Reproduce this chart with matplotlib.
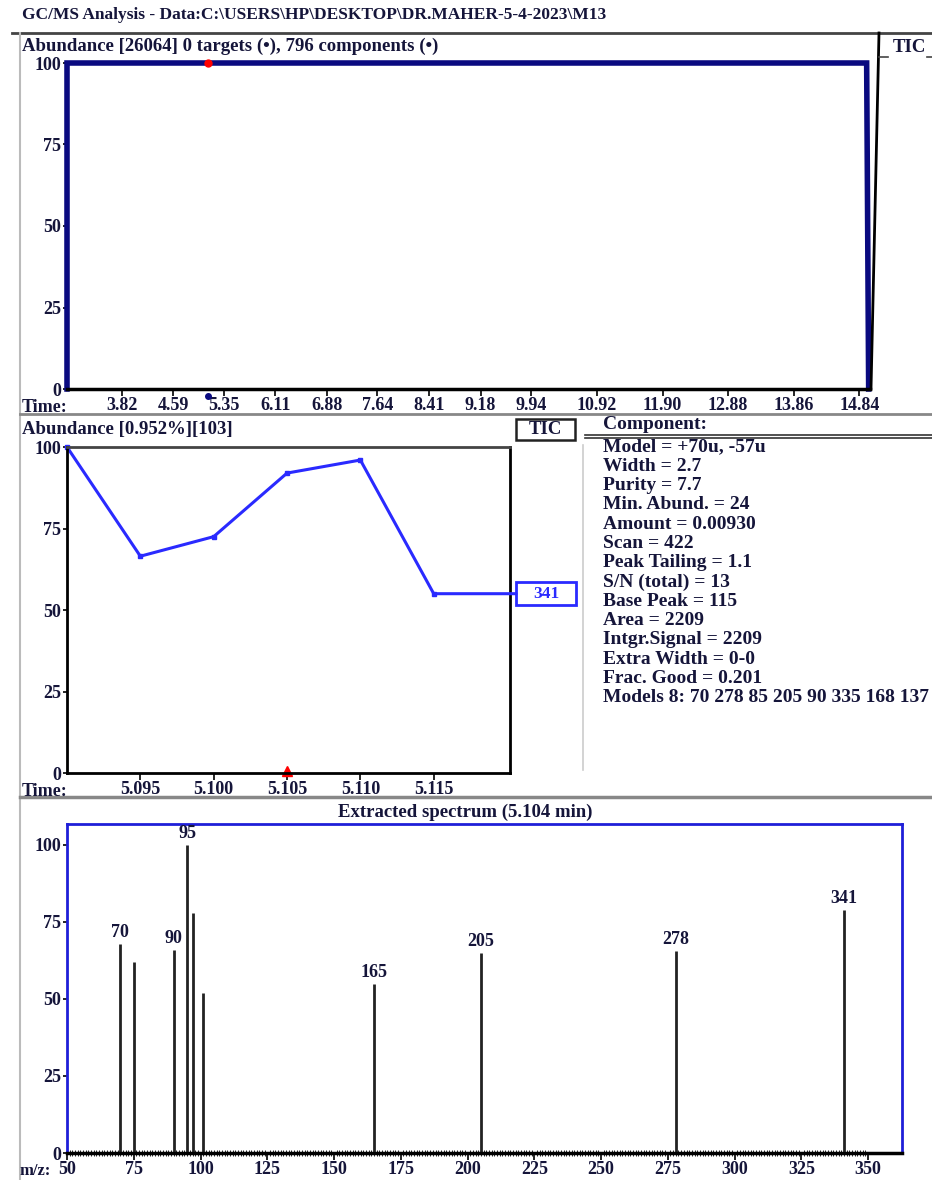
import numpy as np
import matplotlib.pyplot as plt
from matplotlib.lines import Line2D
from matplotlib.patches import Rectangle

plt.rcParams['font.family'] = ['Liberation Serif', 'DejaVu Serif']
plt.rcParams['font.weight'] = 'bold'

# Figure size in pixels
W, H = 932, 1180
INK = '#15153a'
NAVY = '#0a0a80'
BLUE = '#2a2aff'

# TIC trace (saturated over the whole run)
tic_time = [3.0, 3.0, 14.95, 14.98]
tic_abund = [0, 100, 100, 0]
tic_ticks = [3.82, 4.59, 5.35, 6.11, 6.88, 7.64, 8.41, 9.18, 9.94,
             10.92, 11.90, 12.88, 13.86, 14.84]
tic_labels = ['3.82', '4.59', '5.35', '6.11', '6.88', '7.64', '8.41', '9.18',
              '9.94', '10.92', '11.90', '12.88', '13.86', '14.84']
component_time = 5.104

# Ion chromatogram of m/z 341 around the component
ion_time = [5.090, 5.095, 5.100, 5.105, 5.110, 5.115]
ion_abund = [100, 66.5, 72.5, 92, 96, 55]
ion_ticks = [5.095, 5.100, 5.105, 5.110, 5.115]
ion_label = '341'

# Component details
info_lines = [
    'Model = +70u, -57u',
    'Width = 2.7',
    'Purity = 7.7',
    'Min. Abund. = 24',
    'Amount = 0.00930',
    'Scan = 422',
    'Peak Tailing = 1.1',
    'S/N (total) = 13',
    'Base Peak = 115',
    'Area = 2209',
    'Intgr.Signal = 2209',
    'Extra Width = 0-0',
    'Frac. Good = 0.201',
    'Models 8: 70 278 85 205 90 335 168 137',
]

# Extracted spectrum
mz = [70, 75, 90, 95, 97, 101, 165, 205, 278, 341]
intensity = [68, 62, 66, 100, 78, 52, 55, 65, 65.5, 79]
labelled_mz = [70, 90, 95, 165, 205, 278, 341]


def box(x0, y0, x1, y1):
    return [x0 / W, 1 - y1 / H, (x1 - x0) / W, (y1 - y0) / H]


def line(x0, y0, x1, y1, **kw):
    fig.add_artist(Line2D([x0 / W, x1 / W], [1 - y0 / H, 1 - y1 / H],
                          transform=fig.transFigure, **kw))


def text(x, y, s, **kw):
    kw.setdefault('fontsize', 13.5)
    kw.setdefault('color', INK)
    kw.setdefault('va', 'center')
    fig.text(x / W, 1 - y / H, s, **kw)


def style_ticks(ax):
    ax.tick_params(axis='y', length=3, width=1.2, pad=1, labelsize=13,
                   labelcolor=INK)
    ax.tick_params(axis='x', length=5, width=1.2, pad=1, labelsize=13,
                   labelcolor=INK)


fig = plt.figure(figsize=(W / 100, H / 100), dpi=100)

# ---- panel frames and headers
text(22, 15, 'GC/MS Analysis - Data:C:\\USERS\\HP\\DESKTOP\\DR.MAHER-5-4-2023\\M13',
     fontsize=12.5)
line(12, 33, 932, 33, color='#444444', lw=2)
line(20, 33, 20, 1180, color='#bbbbbb', lw=1.5)
line(879, 33, 871, 389, color='black', lw=2)
text(893, 47, 'TIC')
line(879, 57, 888, 57, color='#444444', lw=1.2)
line(927, 57, 932, 57, color='#444444', lw=1.2)
text(22, 46, 'Abundance [26064] 0 targets (\u2022), 796 components (\u2022)')
line(20, 414, 932, 414, color='#888888', lw=2)
line(20, 797, 932, 797, color='#888888', lw=2.5)

# ---- top: total ion chromatogram
ax1 = fig.add_axes(box(67, 63, 870, 389))
ax1.plot(tic_time, tic_abund, color=NAVY, lw=4, clip_on=False,
         solid_joinstyle='miter')
ax1.plot([component_time], [100], 'o', color='red', ms=5, clip_on=False)
ax1.plot([component_time], [-2], 'o', color=NAVY, ms=4, clip_on=False)
ax1.set_xlim(3.0, 15.0)
ax1.set_ylim(0, 100)
ax1.set_xticks(tic_ticks)
ax1.set_xticklabels(tic_labels)
ax1.set_yticks([0, 25, 50, 75, 100])
for s in ['top', 'right', 'left']:
    ax1.spines[s].set_visible(False)
ax1.spines['bottom'].set_linewidth(2.5)
style_ticks(ax1)
text(22, 407, 'Time:', fontsize=13)

# ---- middle: ion trace
text(22, 430, 'Abundance [0.952%][103]')
fig.add_artist(Rectangle((516 / W, 1 - 440 / H), 59 / W, 21 / H,
                         transform=fig.transFigure, fill=False,
                         edgecolor='#222222', lw=1.8))
text(545, 430, 'TIC', ha='center')

ax2 = fig.add_axes(box(67, 447, 510, 773))
ax2.plot(ion_time, ion_abund, color=BLUE, lw=2.2, marker='s', ms=3,
         clip_on=False)
# ion label box to the right of the plot, joined to the last point
yax = ax2.get_yaxis_transform()
bx0, bx1 = (516 - 67) / 443, (576 - 67) / 443
ax2.annotate('', xy=(ion_time[-1], ion_abund[-1]),
             xytext=(bx0, ion_abund[-1]), textcoords=('axes fraction', 'data'),
             arrowprops=dict(arrowstyle='-', color=BLUE, lw=2.2,
                             shrinkA=0, shrinkB=0))
ax2.add_patch(Rectangle((bx0, ion_abund[-1] - 3.5), bx1 - bx0, 7,
                        transform=yax, fill=False, edgecolor=BLUE, lw=2,
                        clip_on=False))
ax2.text((bx0 + bx1) / 2, ion_abund[-1], ion_label, transform=yax,
         ha='center', va='center', color=BLUE, fontsize=12.5)
ax2.plot([5.105], [0.5], '^', color='red', ms=7, clip_on=False)
ax2.set_xlim(5.090, 5.1202)
ax2.set_ylim(0, 100)
ax2.set_xticks(ion_ticks)
ax2.set_xticklabels([f'{t:.3f}' for t in ion_ticks])
ax2.set_yticks([0, 25, 50, 75, 100])
for s in ax2.spines.values():
    s.set_linewidth(2)
ax2.spines['top'].set_color('#444444')
style_ticks(ax2)
text(22, 792, 'Time:', fontsize=13)

# ---- component info
text(603, 425, 'Component:', fontsize=14)
line(585, 435, 932, 435, color='#333333', lw=1.2)
line(585, 438, 932, 438, color='#333333', lw=1.2)
line(583, 445, 583, 770, color='#cccccc', lw=1.2)
for i, s in enumerate(info_lines):
    text(603, 447 + i * 19.3, s, fontsize=14)

# ---- bottom: extracted spectrum
text(465, 812, 'Extracted spectrum (5.104 min)', ha='center')
ax3 = fig.add_axes(box(67, 824, 902, 1153))
ax3.vlines(mz, 0, intensity, colors='#222222', lw=2)
for m, v in zip(mz, intensity):
    if m in labelled_mz:
        ax3.annotate(str(m), (m, v), xytext=(0, 2), textcoords='offset points',
                     ha='center', va='bottom', fontsize=13, color=INK)
ax3.set_xlim(50, 362.7)
ax3.set_ylim(0, 106.8)
ax3.set_xticks(np.arange(50, 351, 25))
ax3.set_xticks(np.arange(50, 351, 1), minor=True)
ax3.set_yticks([0, 25, 50, 75, 100])
for s in ['left', 'top', 'right']:
    ax3.spines[s].set_color('#1f1fd8')
    ax3.spines[s].set_linewidth(2)
ax3.spines['bottom'].set_linewidth(2.5)
style_ticks(ax3)
ax3.tick_params(axis='x', which='minor', direction='inout', length=5,
                width=0.7, color='#222222')
text(20, 1171, 'm/z:', fontsize=12)

fig.savefig('out.png', dpi=100)
